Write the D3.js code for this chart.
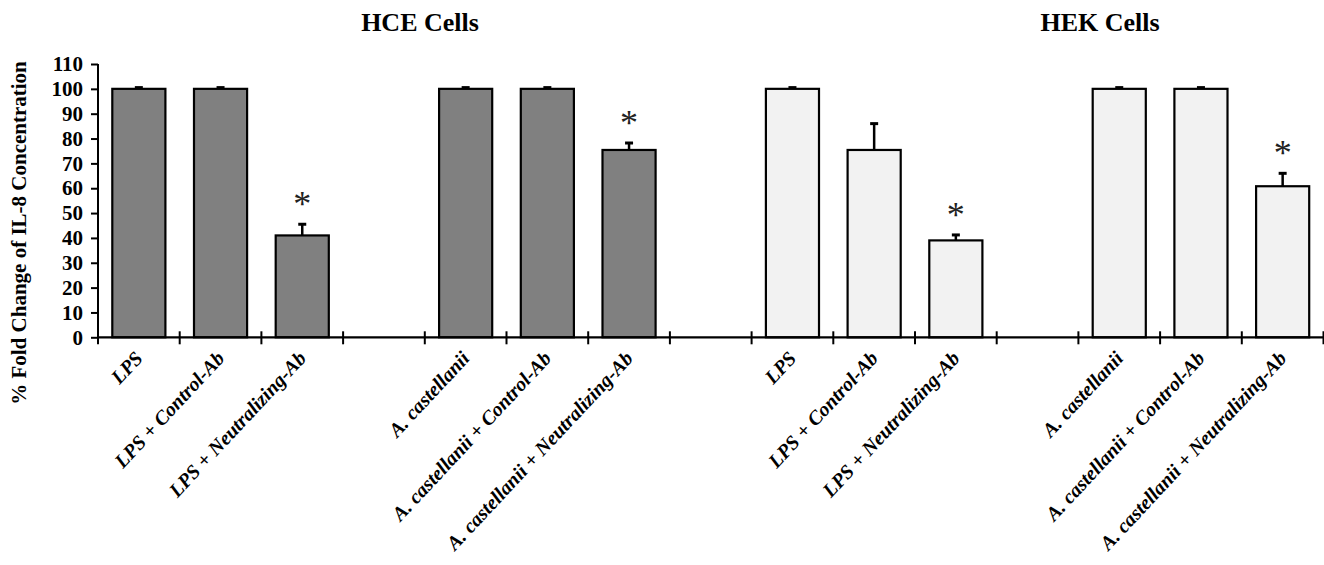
<!DOCTYPE html>
<html>
<head>
<meta charset="utf-8">
<script src="https://cdn.jsdelivr.net/npm/d3@7"></script>
<style>
  html, body { margin: 0; padding: 0; background: #fff; }
  svg { display: block; }
  text { font-family: "Times New Roman", "Liberation Serif", serif; }
</style>
</head>
<body>
<svg id="chart" width="1324" height="565"></svg>
<script>
// Treatment labels along the x axis (empty strings are spacer slots between groups)
const categories = [
  "LPS", "LPS + Control-Ab", "LPS + Neutralizing-Ab", "",
  "A. castellanii", "A. castellanii + Control-Ab", "A. castellanii + Neutralizing-Ab", "",
  "LPS", "LPS + Control-Ab", "LPS + Neutralizing-Ab", "",
  "A. castellanii", "A. castellanii + Control-Ab", "A. castellanii + Neutralizing-Ab"
];
// Cell line for each slot
const cellLines = [
  "HCE", "HCE", "HCE", null,
  "HCE", "HCE", "HCE", null,
  "HEK", "HEK", "HEK", null,
  "HEK", "HEK", "HEK"
];
// % fold change of IL-8 concentration
const values = [
  100, 100, 41, null,
  100, 100, 75.4, null,
  100, 75.4, 39, null,
  100, 100, 60.8
];
// Upper error (SD)
const errors = [
  0.5, 0.5, 4.5, null,
  0.5, 0.5, 2.8, null,
  0.5, 10.6, 2.2, null,
  0.5, 0.5, 5.2
];
// Significance markers
const significant = [
  false, false, true, false,
  false, false, true, false,
  false, false, true, false,
  false, false, true
];
const yTicks = [0, 10, 20, 30, 40, 50, 60, 70, 80, 90, 100, 110];
const panelTitles = ["HCE Cells", "HEK Cells"];
const yTitle = "% Fold Change of IL-8 Concentration";

const colors = { HCE: "#808080", HEK: "#f2f2f2" };

const svg = d3.select("#chart");
const plotLeft = 98, plotRight = 1323.5, plotTop = 64, plotBottom = 337.3;

const x = d3.scaleBand()
  .domain(d3.range(categories.length))
  .range([plotLeft, plotRight])
  .paddingInner(0.35)
  .paddingOuter(0.175);

const y = d3.scaleLinear().domain([0, 110]).range([plotBottom, plotTop]);

const step = x.step();

// Bars
const idx = d3.range(categories.length).filter(i => values[i] != null);
svg.append("g").selectAll("rect")
  .data(idx)
  .join("rect")
  .attr("x", i => x(i))
  .attr("y", i => y(values[i]))
  .attr("width", x.bandwidth())
  .attr("height", i => y(0) - y(values[i]))
  .attr("fill", i => colors[cellLines[i]])
  .attr("stroke", "#000")
  .attr("stroke-width", 2.2);

// Error bars (upper only)
const eb = svg.append("g");
idx.forEach(i => {
  const cx = x(i) + x.bandwidth() / 2;
  const y0 = y(values[i]);
  const y1 = y(values[i] + errors[i]);
  eb.append("line")
    .attr("x1", cx).attr("x2", cx)
    .attr("y1", y0).attr("y2", y1)
    .attr("stroke", "#000").attr("stroke-width", 2.5);
  eb.append("line")
    .attr("x1", cx - 4).attr("x2", cx + 4)
    .attr("y1", y1).attr("y2", y1)
    .attr("stroke", "#000").attr("stroke-width", 3);
});

// Significance asterisks
svg.append("g").selectAll("text")
  .data(idx.filter(i => significant[i]))
  .join("text")
  .attr("x", i => x(i) + x.bandwidth() / 2)
  .attr("y", i => y(values[i] + errors[i]) - 8)
  .attr("text-anchor", "middle")
  .attr("font-size", 36)
  .attr("fill", "#222")
  .text("*");

// Y axis
const yAxis = svg.append("g")
  .attr("transform", `translate(${plotLeft},0)`)
  .call(d3.axisLeft(y).tickValues(yTicks).tickSize(7).tickPadding(8));
yAxis.select(".domain").attr("stroke", "#000").attr("stroke-width", 2)
  .attr("d", `M0,${plotTop}V${plotBottom}`);
yAxis.selectAll(".tick line").attr("stroke", "#000").attr("stroke-width", 2);
yAxis.selectAll(".tick text")
  .attr("font-family", "'Times New Roman', 'Liberation Serif', serif")
  .attr("font-weight", "bold")
  .attr("font-size", 21)
  .attr("fill", "#000");

// X axis line with ticks at slot boundaries
const xg = svg.append("g");
xg.append("line")
  .attr("x1", plotLeft).attr("x2", plotRight)
  .attr("y1", plotBottom).attr("y2", plotBottom)
  .attr("stroke", "#000").attr("stroke-width", 2.2);
const bounds = d3.range(categories.length + 1).map(k => plotLeft + k * step);
xg.selectAll("line.tk")
  .data(bounds)
  .join("line")
  .attr("class", "tk")
  .attr("x1", d => d).attr("x2", d => d)
  .attr("y1", plotBottom - 6).attr("y2", plotBottom + 7)
  .attr("stroke", "#000").attr("stroke-width", 2);

// X labels, rotated
xg.selectAll("text")
  .data(d3.range(categories.length).filter(i => categories[i]))
  .join("text")
  .attr("transform", i => `translate(${x(i) + x.bandwidth() / 2 + 5},${plotBottom + 22}) rotate(-47)`)
  .attr("text-anchor", "end")
  .attr("font-size", 20)
  .attr("font-weight", "bold")
  .attr("font-style", "italic")
  .attr("fill", "#000")
  .text(i => categories[i]);

// Panel titles
const titleX = [420, 1100];
svg.append("g").selectAll("text")
  .data(panelTitles)
  .join("text")
  .attr("x", (d, k) => titleX[k])
  .attr("y", 31)
  .attr("text-anchor", "middle")
  .attr("font-size", 26)
  .attr("font-weight", "bold")
  .attr("fill", "#000")
  .text(d => d);

// Y axis title
svg.append("text")
  .attr("transform", "translate(26,233) rotate(-90)")
  .attr("text-anchor", "middle")
  .attr("font-size", 21)
  .attr("font-weight", "bold")
  .attr("fill", "#000")
  .text(yTitle);
</script>
</body>
</html>
